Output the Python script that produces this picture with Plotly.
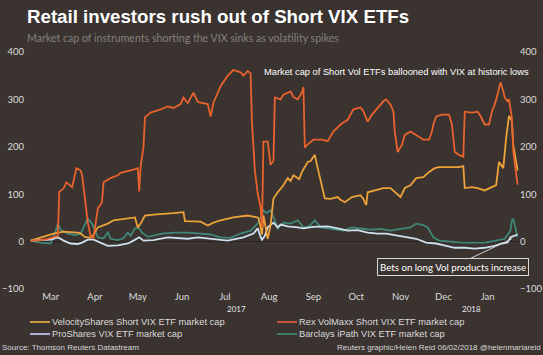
import plotly.graph_objects as go

# ---------------- data (market cap, $m) ----------------
rex_dates = ["2017-03-01","2017-03-08","2017-03-13","2017-03-17","2017-03-20","2017-03-21","2017-03-24","2017-03-26",
    "2017-03-30","2017-04-02","2017-04-05","2017-04-06","2017-04-08","2017-04-10","2017-04-12","2017-04-14",
    "2017-04-17","2017-04-19","2017-04-20","2017-04-21","2017-04-26","2017-05-01","2017-05-03","2017-05-08",
    "2017-05-12","2017-05-15","2017-05-16","2017-05-17","2017-05-19","2017-05-20","2017-05-24","2017-05-31",
    "2017-06-05","2017-06-09","2017-06-14","2017-06-16","2017-06-19","2017-06-23","2017-06-26","2017-06-28",
    "2017-07-03","2017-07-05","2017-07-07","2017-07-12","2017-07-17","2017-07-21","2017-07-26","2017-07-28",
    "2017-07-31","2017-08-02","2017-08-03","2017-08-05","2017-08-07","2017-08-09","2017-08-10","2017-08-11",
    "2017-08-14","2017-08-16","2017-08-18","2017-08-19","2017-08-23","2017-08-25","2017-08-30","2017-09-01",
    "2017-09-04","2017-09-07","2017-09-08","2017-09-09","2017-09-11","2017-09-15","2017-09-21","2017-09-25",
    "2017-09-29","2017-10-04","2017-10-09","2017-10-13","2017-10-18","2017-10-20","2017-10-23","2017-10-26",
    "2017-10-30","2017-11-03","2017-11-05","2017-11-08","2017-11-10","2017-11-11","2017-11-13","2017-11-16",
    "2017-11-18","2017-11-22","2017-11-26","2017-12-01","2017-12-05","2017-12-07","2017-12-08","2017-12-10",
    "2017-12-14","2017-12-19","2017-12-21","2017-12-23","2017-12-26","2017-12-29","2017-12-30","2018-01-04",
    "2018-01-08","2018-01-10","2018-01-13","2018-01-16","2018-01-18","2018-01-20","2018-01-22","2018-01-24",
    "2018-01-26","2018-01-27","2018-01-29","2018-01-30","2018-02-01","2018-02-02","2018-02-05"]
rex_values = [2,3,6,10,12,105,112,125,
    115,155,150,140,90,40,10,8,
    70,78,85,125,134,140,145,148,
    152,155,106,158,200,262,272,279,
    285,282,290,304,292,314,295,293,
    290,264,293,328,350,362,357,350,
    360,355,250,150,102,72,30,211,
    211,162,170,304,300,310,317,305,
    300,315,326,198,205,215,215,212,
    232,247,257,279,283,275,253,268,
    283,296,300,289,275,232,189,204,
    225,232,225,215,215,232,247,264,
    268,268,247,189,183,179,274,272,
    274,265,247,247,274,289,311,336,
    317,304,296,300,262,189,120]

vel_dates = ["2017-03-01","2017-03-08","2017-03-13","2017-03-17","2017-03-24","2017-04-03","2017-04-05","2017-04-08",
    "2017-04-12","2017-04-14","2017-04-17","2017-04-24","2017-04-28","2017-05-08","2017-05-13","2017-05-15",
    "2017-05-17","2017-05-20","2017-05-26","2017-06-09","2017-06-16","2017-06-17","2017-06-28","2017-07-03",
    "2017-07-07","2017-07-12","2017-07-21","2017-07-31","2017-08-07","2017-08-08","2017-08-10","2017-08-11",
    "2017-08-12","2017-08-14","2017-08-16","2017-08-17","2017-08-18","2017-08-21","2017-08-25","2017-08-28",
    "2017-08-30","2017-09-01","2017-09-05","2017-09-07","2017-09-11","2017-09-13","2017-09-16","2017-09-18",
    "2017-09-21","2017-09-23","2017-09-27","2017-10-02","2017-10-04","2017-10-07","2017-10-12","2017-10-18",
    "2017-10-20","2017-10-22","2017-10-23","2017-10-28","2017-11-03","2017-11-08","2017-11-12","2017-11-15",
    "2017-11-18","2017-11-22","2017-11-26","2017-12-01","2017-12-05","2017-12-09","2017-12-12","2017-12-20",
    "2017-12-26","2017-12-29","2017-12-30","2018-01-04","2018-01-08","2018-01-13","2018-01-17","2018-01-21",
    "2018-01-23","2018-01-26","2018-01-28","2018-01-30","2018-02-01","2018-02-02","2018-02-05"]
vel_values = [2,9,13,17,21,19,17,10,
    8,15,30,38,45,49,51,30,
    38,55,57,60,62,43,42,34,
    40,45,51,55,51,45,15,55,
    40,6,34,62,91,104,119,134,
    128,140,132,147,168,170,183,155,
    119,91,90,94,88,83,94,98,
    90,77,104,108,113,113,102,94,
    113,119,134,136,147,155,157,157,
    157,159,113,115,113,108,113,119,
    168,155,219,265,255,204,150]

pro_dates = ["2017-03-01","2017-03-08","2017-03-15","2017-03-20","2017-03-24","2017-03-29","2017-04-03","2017-04-06",
    "2017-04-10","2017-04-14","2017-04-19","2017-04-24","2017-05-01","2017-05-08","2017-05-12","2017-05-16",
    "2017-05-19","2017-05-26","2017-06-05","2017-06-12","2017-06-19","2017-06-26","2017-07-03","2017-07-12",
    "2017-07-17","2017-07-22","2017-07-28","2017-08-04","2017-08-07","2017-08-09","2017-08-10","2017-08-12",
    "2017-08-14","2017-08-18","2017-08-19","2017-08-21","2017-08-23","2017-08-28","2017-09-04","2017-09-08",
    "2017-09-15","2017-09-25","2017-10-02","2017-10-09","2017-10-16","2017-10-23","2017-10-30","2017-11-05",
    "2017-11-12","2017-11-19","2017-11-26","2017-12-03","2017-12-10","2017-12-17","2017-12-23","2017-12-30",
    "2018-01-06","2018-01-13","2018-01-20","2018-01-25","2018-01-29","2018-01-31","2018-02-02","2018-02-05"]
pro_values = [2,3,4,9,2,-4,-5,-2,
    4,4,-2,-9,-8,-4,2,9,
    2,3,9,8,6,9,7,4,
    2,5,9,17,28,10,4,12,
    30,40,36,30,36,32,30,28,
    31,32,28,23,24,19,17,17,
    13,9,6,-2,-4,-9,-13,-13,
    -15,-13,-9,-4,-2,9,12,15]

bar_dates = ["2017-03-01","2017-03-08","2017-03-15","2017-03-18","2017-03-20","2017-03-22","2017-03-27","2017-04-01",
    "2017-04-05","2017-04-08","2017-04-10","2017-04-13","2017-04-17","2017-04-21","2017-04-24","2017-04-26",
    "2017-05-01","2017-05-05","2017-05-08","2017-05-10","2017-05-13","2017-05-16","2017-05-18","2017-05-22",
    "2017-06-01","2017-06-10","2017-06-19","2017-06-28","2017-07-05","2017-07-12","2017-07-19","2017-07-26",
    "2017-08-02","2017-08-07","2017-08-09","2017-08-11","2017-08-13","2017-08-16","2017-08-19","2017-08-21",
    "2017-08-25","2017-08-30","2017-09-04","2017-09-08","2017-09-12","2017-09-16","2017-09-20","2017-09-30",
    "2017-10-06","2017-10-12","2017-10-18","2017-10-25","2017-11-01","2017-11-08","2017-11-15","2017-11-22",
    "2017-11-26","2017-12-01","2017-12-04","2017-12-08","2017-12-12","2017-12-20","2017-12-28","2018-01-05",
    "2018-01-13","2018-01-21","2018-01-27","2018-01-31","2018-02-01","2018-02-02","2018-02-05"]
bar_values = [2,-2,-4,17,38,25,17,14,
    17,38,49,38,9,7,19,6,
    3,7,19,12,28,28,19,10,
    17,19,19,17,15,9,8,17,
    23,38,51,66,60,66,45,28,
    40,38,45,30,32,45,30,25,
    23,30,28,25,27,23,27,30,
    38,35,30,9,2,0,-2,-2,
    -2,2,6,23,45,48,10]

series_names = ["VelocityShares Short VIX ETF market cap", "Rex VolMaxx Short VIX ETF market cap",
                "ProShares VIX ETF market cap", "Barclays iPath VIX ETF market cap"]
series_colors = ["#eea23a", "#e8622e", "#cfe0ee", "#3f8878"]
legend_colors = ["#c99a3e", "#c4543a", "#aab2dc", "#3b7a68"]

month_ticks = ["2017-03-15","2017-04-15","2017-05-15","2017-06-15","2017-07-15","2017-08-15",
               "2017-09-15","2017-10-15","2017-11-15","2017-12-15","2018-01-15"]
month_labels = ["Mar","Apr","May","Jun","Jul","Aug","Sep","Oct","Nov","Dec","Jan"]
year_labels = ["2017", "2018"]
year_pos = ["2017-07-23", "2018-01-04"]
y_ticks = [-100, 0, 100, 200, 300, 400]

BG = "#3a3330"
W, H = 543, 355
ML, MR, MT, MB = 25, 24, 52, 66
PW, PH = W - ML - MR, H - MT - MB

def px(X):
    return (X - ML) / PW

def py(Y):
    return (H - MB - Y) / PH

fig = go.Figure()
# draw order: Barclays, ProShares, Velocity, Rex
for i, (d, v) in [(3, (bar_dates, bar_values)), (2, (pro_dates, pro_values)),
                  (0, (vel_dates, vel_values)), (1, (rex_dates, rex_values))]:
    fig.add_trace(go.Scatter(x=d, y=v, mode="lines", name=series_names[i],
                             line=dict(color=series_colors[i], width=1.8), showlegend=False))

tickfont = dict(family="Lato, Liberation Sans, Arial", size=9.5, color="#dcdcdc")
fig.update_layout(
    width=W, height=H, autosize=False,
    paper_bgcolor=BG, plot_bgcolor=BG,
    margin=dict(l=ML, r=MR, t=MT, b=MB, autoexpand=False),
    xaxis=dict(type="date", range=["2017-02-25", "2018-02-06"], tickvals=month_ticks, ticktext=month_labels,
               showgrid=False, zeroline=False, showline=False, ticks="", tickfont=tickfont, automargin=False),
    yaxis=dict(range=[-100, 400], tickvals=y_ticks, showgrid=False, zeroline=True, automargin=False,
               zerolinecolor="#2a2421", zerolinewidth=1, showline=False, ticks="", tickfont=tickfont),
    yaxis2=dict(range=[-100, 400], tickvals=y_ticks, overlaying="y", side="right", anchor="x", automargin=False,
                showgrid=False, zeroline=False, showline=False, ticks="", tickfont=tickfont),
    showlegend=False,
)
# invisible trace so the right axis is drawn
fig.add_trace(go.Scatter(x=[rex_dates[0]], y=[0], yaxis="y2", mode="lines",
                         line=dict(width=0), hoverinfo="skip", showlegend=False))

ann = []
ann.append(dict(text="<b>Retail investors rush out of Short VIX ETFs</b>", xref="paper", yref="paper",
                x=px(25), y=py(16), xanchor="left", yanchor="middle", showarrow=False,
                font=dict(family="Liberation Sans, Arial", size=18.7, color="#ffffff")))
ann.append(dict(text="Market cap of instruments shorting the VIX sinks as volatility spikes", xref="paper", yref="paper",
                x=px(25), y=py(38), xanchor="left", yanchor="middle", showarrow=False,
                font=dict(family="Lato, Liberation Sans", size=10.6, color="#85807c")))
ann.append(dict(text="Market cap of Short Vol ETFs ballooned with VIX at historic lows", xref="paper", yref="paper",
                x=px(262), y=py(72), xanchor="left", yanchor="middle", showarrow=False,
                font=dict(family="Liberation Sans, Arial", size=9.3, color="#ffffff")))
ann.append(dict(text="Bets on long Vol products increase", x="2018-02-01", y=6, xref="x", yref="y",
                ax=-59, ay=28, axref="pixel", ayref="pixel", showarrow=True, arrowhead=0, arrowwidth=1,
                arrowcolor="#d8d8d8", bordercolor="#d8d8d8", borderwidth=1, borderpad=2, bgcolor=BG,
                font=dict(family="Lato, Liberation Sans", size=9.7, color="#ffffff")))
for lbl, pos in zip(year_labels, year_pos):
    ann.append(dict(text=lbl, x=pos, xref="x", yref="paper", y=py(309), yanchor="middle", showarrow=False,
                    font=dict(family="Lato, Liberation Sans", size=8, color="#e8e8e8")))
ann.append(dict(text="Source: Thomson Reuters Datastream", xref="paper", yref="paper", x=px(0), y=py(347),
                xanchor="left", yanchor="middle", showarrow=False,
                font=dict(family="Liberation Sans, Arial", size=8, color="#d8d8d8")))
ann.append(dict(text="Reuters graphic/Helen Reid 06/02/2018 @helenmariareid", xref="paper", yref="paper",
                x=px(543), y=py(347), xanchor="right", yanchor="middle", showarrow=False,
                font=dict(family="Liberation Sans, Arial", size=8, color="#d8d8d8")))

shapes = []
leg_pos = [(30, 322), (277, 322), (30, 334), (277, 334)]
for i, (lx, ly) in enumerate(leg_pos):
    shapes.append(dict(type="line", xref="paper", yref="paper", x0=px(lx), x1=px(lx + 20), y0=py(ly), y1=py(ly),
                       line=dict(color=legend_colors[i], width=2)))
    ann.append(dict(text=series_names[i], xref="paper", yref="paper", x=px(lx + 20), y=py(ly),
                    xanchor="left", yanchor="middle", showarrow=False,
                    font=dict(family="Liberation Sans, Arial", size=9.3, color="#dcdcdc")))

fig.update_layout(annotations=ann, shapes=shapes)
fig.write_html("out.html", config={"displayModeBar": False},
               post_script="document.body.style.margin='0';document.body.style.overflow='hidden';")
